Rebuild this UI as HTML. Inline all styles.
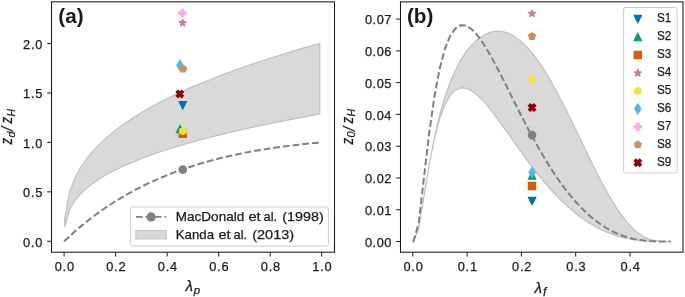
<!DOCTYPE html>
<html><head><meta charset="utf-8"><title>chart</title>
<style>html,body{margin:0;padding:0;background:#fff;}body{width:685px;height:297px;overflow:hidden;position:relative;font-family:"Liberation Sans",sans-serif;}</style>
</head><body>
<svg width="685" height="297" viewBox="0 0 685 297" style="position:absolute;left:0;top:0;will-change:transform">
<clipPath id="c1"><rect x="51.50" y="1.85" width="283.00" height="250.35"/></clipPath>
<g clip-path="url(#c1)">
<path d="M64.72 218.68 L69.92 190.60 L75.13 177.49 L80.33 167.96 L85.54 160.24 L90.74 153.64 L95.95 147.82 L101.15 142.59 L106.36 137.81 L111.56 133.39 L116.77 129.27 L121.97 125.40 L127.18 121.75 L132.38 118.29 L137.59 114.99 L142.79 111.84 L148.00 108.82 L153.20 105.92 L158.41 103.13 L163.62 100.43 L168.82 97.82 L174.03 95.29 L179.23 92.84 L184.44 90.46 L189.64 88.14 L194.85 85.88 L200.05 83.68 L205.26 81.54 L210.46 79.44 L215.67 77.39 L220.87 75.39 L226.08 73.42 L231.28 71.50 L236.49 69.62 L241.69 67.77 L246.90 65.95 L252.10 64.17 L257.31 62.42 L262.51 60.70 L267.72 59.01 L272.92 57.35 L278.13 55.71 L283.33 54.10 L288.54 52.51 L293.74 50.94 L298.95 49.40 L304.15 47.88 L309.36 46.38 L314.56 44.90 L319.77 43.44 L319.77 114.06 L314.56 115.00 L309.36 115.95 L304.15 116.92 L298.95 117.90 L293.74 118.89 L288.54 119.89 L283.33 120.92 L278.13 121.95 L272.92 123.01 L267.72 124.08 L262.51 125.16 L257.31 126.27 L252.10 127.39 L246.90 128.54 L241.69 129.71 L236.49 130.90 L231.28 132.11 L226.08 133.34 L220.87 134.61 L215.67 135.89 L210.46 137.21 L205.26 138.56 L200.05 139.94 L194.85 141.36 L189.64 142.81 L184.44 144.30 L179.23 145.83 L174.03 147.41 L168.82 149.03 L163.62 150.71 L158.41 152.44 L153.20 154.24 L148.00 156.11 L142.79 158.05 L137.59 160.08 L132.38 162.20 L127.18 164.42 L121.97 166.77 L116.77 169.25 L111.56 171.90 L106.36 174.75 L101.15 177.82 L95.95 181.19 L90.74 184.93 L85.54 189.17 L80.33 194.14 L75.13 200.27 L69.92 208.69 L64.72 226.76 Z" fill="#d9d9d9" stroke="#c0c0c0" stroke-width="1.2" stroke-linejoin="miter"/>
<path d="M64.10 241.30 L64.72 240.71 L69.92 235.87 L75.13 231.22 L80.33 226.77 L85.54 222.51 L90.74 218.42 L95.95 214.50 L101.15 210.75 L106.36 207.16 L111.56 203.73 L116.77 200.44 L121.97 197.29 L127.18 194.27 L132.38 191.39 L137.59 188.63 L142.79 185.99 L148.00 183.47 L153.20 181.06 L158.41 178.75 L163.62 176.55 L168.82 174.45 L174.03 172.44 L179.23 170.52 L184.44 168.69 L189.64 166.95 L194.85 165.28 L200.05 163.69 L205.26 162.18 L210.46 160.73 L215.67 159.36 L220.87 158.05 L226.08 156.80 L231.28 155.61 L236.49 154.48 L241.69 153.41 L246.90 152.39 L252.10 151.42 L257.31 150.50 L262.51 149.62 L267.72 148.79 L272.92 148.00 L278.13 147.26 L283.33 146.55 L288.54 145.88 L293.74 145.25 L298.95 144.65 L304.15 144.08 L309.36 143.55 L314.56 143.04 L319.77 142.57" fill="none" stroke="#808080" stroke-width="2" stroke-dasharray="6.781 2.932"/>
<circle cx="182.80" cy="169.63" r="4.3" fill="#808080"/>
<polygon points="179.15,101.55 186.45,101.55 182.80,108.85" fill="#0072b2" stroke="#0072b2" stroke-width="1.20" stroke-linejoin="miter"/>
<polygon points="176.35,132.65 183.65,132.65 180.00,125.35" fill="#009e73" stroke="#009e73" stroke-width="1.20" stroke-linejoin="miter"/>
<polygon points="179.15,130.15 186.45,130.15 186.45,137.45 179.15,137.45" fill="#d55e00" stroke="#d55e00" stroke-width="1.20" stroke-linejoin="miter"/>
<polygon points="182.60,18.96 183.49,21.68 186.35,21.68 184.03,23.37 184.92,26.09 182.60,24.41 180.28,26.09 181.17,23.37 178.85,21.68 181.71,21.68" fill="#cc79a7" stroke="#cc79a7" stroke-width="1.20" stroke-linejoin="bevel"/>
<polygon points="183.00,134.65 179.84,132.82 179.84,129.18 183.00,127.35 186.16,129.18 186.16,132.82" fill="#f0e442" stroke="#f0e442" stroke-width="1.20" stroke-linejoin="miter"/>
<polygon points="180.00,60.24 183.10,65.40 180.00,70.56 176.90,65.40" fill="#56b4e9" stroke="#56b4e9" stroke-width="1.20" stroke-linejoin="miter"/>
<polygon points="181.18,9.45 183.62,9.45 183.62,11.88 186.05,11.88 186.05,14.32 183.62,14.32 183.62,16.75 181.18,16.75 181.18,14.32 178.75,14.32 178.75,11.88 181.18,11.88" fill="#fbafe4" stroke="#fbafe4" stroke-width="1.20" stroke-linejoin="miter"/>
<polygon points="183.20,65.25 186.67,67.77 185.35,71.85 181.05,71.85 179.73,67.77" fill="#ca9161" stroke="#ca9161" stroke-width="1.20" stroke-linejoin="miter"/>
<polygon points="177.98,90.25 179.80,92.08 181.62,90.25 183.45,92.08 181.62,93.90 183.45,95.73 181.62,97.55 179.80,95.73 177.98,97.55 176.15,95.73 177.98,93.90 176.15,92.08" fill="#8b0000" stroke="#8b0000" stroke-width="1.20" stroke-linejoin="miter"/>
</g>
<line x1="64.10" y1="252.20" x2="64.10" y2="256.50" stroke="#1a1a1a" stroke-width="1"/>
<line x1="115.62" y1="252.20" x2="115.62" y2="256.50" stroke="#1a1a1a" stroke-width="1"/>
<line x1="167.14" y1="252.20" x2="167.14" y2="256.50" stroke="#1a1a1a" stroke-width="1"/>
<line x1="218.66" y1="252.20" x2="218.66" y2="256.50" stroke="#1a1a1a" stroke-width="1"/>
<line x1="270.18" y1="252.20" x2="270.18" y2="256.50" stroke="#1a1a1a" stroke-width="1"/>
<line x1="321.70" y1="252.20" x2="321.70" y2="256.50" stroke="#1a1a1a" stroke-width="1"/>
<line x1="47.20" y1="241.30" x2="51.50" y2="241.30" stroke="#1a1a1a" stroke-width="1"/>
<line x1="47.20" y1="191.85" x2="51.50" y2="191.85" stroke="#1a1a1a" stroke-width="1"/>
<line x1="47.20" y1="142.40" x2="51.50" y2="142.40" stroke="#1a1a1a" stroke-width="1"/>
<line x1="47.20" y1="92.95" x2="51.50" y2="92.95" stroke="#1a1a1a" stroke-width="1"/>
<line x1="47.20" y1="43.50" x2="51.50" y2="43.50" stroke="#1a1a1a" stroke-width="1"/>
<rect x="51.50" y="1.85" width="283.00" height="250.35" fill="none" stroke="#1a1a1a" stroke-width="1.05"/>
<clipPath id="c2"><rect x="400.50" y="1.85" width="282.50" height="250.35"/></clipPath>
<g clip-path="url(#c2)">
<path d="M413.42 241.50 L418.67 228.73 L423.92 196.99 L429.17 164.93 L434.41 137.54 L439.66 115.14 L444.91 96.99 L450.16 82.23 L455.40 70.18 L460.65 60.30 L465.90 52.21 L471.15 45.64 L476.39 40.41 L481.64 36.41 L486.89 33.57 L492.13 31.84 L497.38 31.19 L502.63 31.61 L507.88 33.08 L513.12 35.60 L518.37 39.12 L523.62 43.64 L528.87 49.10 L534.11 55.47 L539.36 62.69 L544.61 70.68 L549.86 79.39 L555.10 88.71 L560.35 98.57 L565.60 108.86 L570.85 119.47 L576.09 130.29 L581.34 141.22 L586.59 152.11 L591.84 162.86 L597.08 173.35 L602.33 183.44 L607.58 193.01 L612.83 201.96 L618.07 210.16 L623.32 217.52 L628.57 223.95 L633.82 229.37 L639.06 233.74 L644.31 237.05 L649.56 239.34 L654.81 240.70 L660.05 241.32 L665.30 241.49 L670.55 241.50 L670.55 241.50 L665.30 241.50 L660.05 241.48 L654.81 241.40 L649.56 241.21 L644.31 240.89 L639.06 240.38 L633.82 239.68 L628.57 238.75 L623.32 237.58 L618.07 236.15 L612.83 234.43 L607.58 232.43 L602.33 230.12 L597.08 227.50 L591.84 224.55 L586.59 221.26 L581.34 217.64 L576.09 213.66 L570.85 209.33 L565.60 204.65 L560.35 199.61 L555.10 194.23 L549.86 188.51 L544.61 182.45 L539.36 176.09 L534.11 169.44 L528.87 162.52 L523.62 155.39 L518.37 148.08 L513.12 140.66 L507.88 133.20 L502.63 125.78 L497.38 118.53 L492.13 111.57 L486.89 105.06 L481.64 99.20 L476.39 94.23 L471.15 90.45 L465.90 88.20 L460.65 87.92 L455.40 90.15 L450.16 95.50 L444.91 104.76 L439.66 118.79 L434.41 138.53 L429.17 164.65 L423.92 196.55 L418.67 228.62 L413.42 241.50 Z" fill="#d9d9d9" stroke="#c0c0c0" stroke-width="1.2" stroke-linejoin="miter"/>
<path d="M412.80 241.50 L413.42 241.50 L418.67 223.35 L423.92 178.18 L429.17 133.26 L434.41 96.48 L439.66 68.67 L444.91 48.91 L450.16 35.87 L455.40 28.32 L460.65 25.20 L465.90 25.58 L471.15 28.75 L476.39 34.08 L481.64 41.07 L486.89 49.33 L492.13 58.49 L497.38 68.30 L502.63 78.52 L507.88 88.96 L513.12 99.47 L518.37 109.93 L523.62 120.22 L528.87 130.27 L534.11 140.00 L539.36 149.37 L544.61 158.34 L549.86 166.86 L555.10 174.92 L560.35 182.51 L565.60 189.60 L570.85 196.19 L576.09 202.29 L581.34 207.89 L586.59 213.00 L591.84 217.63 L597.08 221.78 L602.33 225.48 L607.58 228.73 L612.83 231.55 L618.07 233.96 L623.32 235.98 L628.57 237.63 L633.82 238.94 L639.06 239.93 L644.31 240.63 L649.56 241.10 L654.81 241.36 L660.05 241.47 L665.30 241.50 L670.55 241.50" fill="none" stroke="#808080" stroke-width="2" stroke-dasharray="6.793 2.938"/>
<circle cx="532.10" cy="135.10" r="4.3" fill="#808080"/>
<polygon points="528.45,197.45 535.75,197.45 532.10,204.75" fill="#0072b2" stroke="#0072b2" stroke-width="1.20" stroke-linejoin="miter"/>
<polygon points="528.45,179.15 535.75,179.15 532.10,171.85" fill="#009e73" stroke="#009e73" stroke-width="1.20" stroke-linejoin="miter"/>
<polygon points="528.35,182.35 535.65,182.35 535.65,189.65 528.35,189.65" fill="#d55e00" stroke="#d55e00" stroke-width="1.20" stroke-linejoin="miter"/>
<polygon points="532.00,9.66 532.89,12.38 535.75,12.38 533.43,14.07 534.32,16.79 532.00,15.11 529.68,16.79 530.57,14.07 528.25,12.38 531.11,12.38" fill="#cc79a7" stroke="#cc79a7" stroke-width="1.20" stroke-linejoin="bevel"/>
<polygon points="532.00,82.85 528.84,81.03 528.84,77.38 532.00,75.55 535.16,77.38 535.16,81.03" fill="#f0e442" stroke="#f0e442" stroke-width="1.20" stroke-linejoin="miter"/>
<polygon points="532.10,167.34 535.20,172.50 532.10,177.66 529.00,172.50" fill="#56b4e9" stroke="#56b4e9" stroke-width="1.20" stroke-linejoin="miter"/>
<polygon points="530.88,104.65 533.32,104.65 533.32,107.08 535.75,107.08 535.75,109.52 533.32,109.52 533.32,111.95 530.88,111.95 530.88,109.52 528.45,109.52 528.45,107.08 530.88,107.08" fill="#fbafe4" stroke="#fbafe4" stroke-width="1.20" stroke-linejoin="miter"/>
<polygon points="532.00,32.75 535.47,35.27 534.15,39.35 529.85,39.35 528.53,35.27" fill="#ca9161" stroke="#ca9161" stroke-width="1.20" stroke-linejoin="miter"/>
<polygon points="530.27,103.95 532.10,105.77 533.93,103.95 535.75,105.77 533.93,107.60 535.75,109.42 533.93,111.25 532.10,109.42 530.27,111.25 528.45,109.42 530.27,107.60 528.45,105.77" fill="#8b0000" stroke="#8b0000" stroke-width="1.20" stroke-linejoin="miter"/>
</g>
<line x1="412.80" y1="252.20" x2="412.80" y2="256.50" stroke="#1a1a1a" stroke-width="1"/>
<line x1="467.10" y1="252.20" x2="467.10" y2="256.50" stroke="#1a1a1a" stroke-width="1"/>
<line x1="521.40" y1="252.20" x2="521.40" y2="256.50" stroke="#1a1a1a" stroke-width="1"/>
<line x1="575.70" y1="252.20" x2="575.70" y2="256.50" stroke="#1a1a1a" stroke-width="1"/>
<line x1="630.00" y1="252.20" x2="630.00" y2="256.50" stroke="#1a1a1a" stroke-width="1"/>
<line x1="396.20" y1="241.50" x2="400.50" y2="241.50" stroke="#1a1a1a" stroke-width="1"/>
<line x1="396.20" y1="209.73" x2="400.50" y2="209.73" stroke="#1a1a1a" stroke-width="1"/>
<line x1="396.20" y1="177.96" x2="400.50" y2="177.96" stroke="#1a1a1a" stroke-width="1"/>
<line x1="396.20" y1="146.19" x2="400.50" y2="146.19" stroke="#1a1a1a" stroke-width="1"/>
<line x1="396.20" y1="114.42" x2="400.50" y2="114.42" stroke="#1a1a1a" stroke-width="1"/>
<line x1="396.20" y1="82.65" x2="400.50" y2="82.65" stroke="#1a1a1a" stroke-width="1"/>
<line x1="396.20" y1="50.88" x2="400.50" y2="50.88" stroke="#1a1a1a" stroke-width="1"/>
<line x1="396.20" y1="19.11" x2="400.50" y2="19.11" stroke="#1a1a1a" stroke-width="1"/>
<rect x="400.50" y="1.85" width="282.50" height="250.35" fill="none" stroke="#1a1a1a" stroke-width="1.05"/>
<rect x="130.60" y="206.90" width="197.80" height="39.20" rx="2.4" ry="2.4" fill="#fff" fill-opacity="0.8" stroke="#cccccc" stroke-width="1"/>
<path d="M135.9 216.9 H166.3" fill="none" stroke="#808080" stroke-width="1.9" stroke-dasharray="6.66 2.88"/>
<circle cx="151.1" cy="216.9" r="4.6" fill="#808080"/>
<rect x="135.9" y="230.6" width="30.4" height="8.3" fill="#d9d9d9" stroke="#c0c0c0" stroke-width="1"/>
<rect x="623.60" y="7.40" width="53.60" height="165.60" rx="2.4" ry="2.4" fill="#fff" fill-opacity="0.8" stroke="#cccccc" stroke-width="1"/>
<polygon points="634.20,15.45 641.50,15.45 637.85,22.75" fill="#0072b2" stroke="#0072b2" stroke-width="1.20" stroke-linejoin="miter"/>
<polygon points="634.20,40.70 641.50,40.70 637.85,33.40" fill="#009e73" stroke="#009e73" stroke-width="1.20" stroke-linejoin="miter"/>
<polygon points="634.20,51.35 641.50,51.35 641.50,58.65 634.20,58.65" fill="#d55e00" stroke="#d55e00" stroke-width="1.20" stroke-linejoin="miter"/>
<polygon points="637.85,69.01 638.74,71.73 641.60,71.73 639.28,73.42 640.17,76.14 637.85,74.46 635.53,76.14 636.42,73.42 634.10,71.73 636.96,71.73" fill="#cc79a7" stroke="#cc79a7" stroke-width="1.20" stroke-linejoin="bevel"/>
<polygon points="637.85,94.55 634.69,92.73 634.69,89.08 637.85,87.25 641.01,89.08 641.01,92.73" fill="#f0e442" stroke="#f0e442" stroke-width="1.20" stroke-linejoin="miter"/>
<polygon points="637.85,103.69 640.95,108.85 637.85,114.01 634.75,108.85" fill="#56b4e9" stroke="#56b4e9" stroke-width="1.20" stroke-linejoin="miter"/>
<polygon points="636.63,123.15 639.07,123.15 639.07,125.58 641.50,125.58 641.50,128.02 639.07,128.02 639.07,130.45 636.63,130.45 636.63,128.02 634.20,128.02 634.20,125.58 636.63,125.58" fill="#fbafe4" stroke="#fbafe4" stroke-width="1.20" stroke-linejoin="miter"/>
<polygon points="637.85,141.10 641.32,143.62 640.00,147.70 635.70,147.70 634.38,143.62" fill="#ca9161" stroke="#ca9161" stroke-width="1.20" stroke-linejoin="miter"/>
<polygon points="636.02,159.05 637.85,160.88 639.68,159.05 641.50,160.88 639.68,162.70 641.50,164.52 639.68,166.35 637.85,164.52 636.02,166.35 634.20,164.52 636.02,162.70 634.20,160.88" fill="#8b0000" stroke="#8b0000" stroke-width="1.20" stroke-linejoin="miter"/>
<text x="64.80" y="270.50" font-family="'Liberation Sans', sans-serif" font-size="12.80" text-anchor="middle" font-weight="normal" font-style="normal" fill="#1a1a1a" stroke="#1a1a1a" stroke-width="0.25" letter-spacing="0.8">0.0</text>
<text x="116.32" y="270.50" font-family="'Liberation Sans', sans-serif" font-size="12.80" text-anchor="middle" font-weight="normal" font-style="normal" fill="#1a1a1a" stroke="#1a1a1a" stroke-width="0.25" letter-spacing="0.8">0.2</text>
<text x="167.84" y="270.50" font-family="'Liberation Sans', sans-serif" font-size="12.80" text-anchor="middle" font-weight="normal" font-style="normal" fill="#1a1a1a" stroke="#1a1a1a" stroke-width="0.25" letter-spacing="0.8">0.4</text>
<text x="219.36" y="270.50" font-family="'Liberation Sans', sans-serif" font-size="12.80" text-anchor="middle" font-weight="normal" font-style="normal" fill="#1a1a1a" stroke="#1a1a1a" stroke-width="0.25" letter-spacing="0.8">0.6</text>
<text x="270.88" y="270.50" font-family="'Liberation Sans', sans-serif" font-size="12.80" text-anchor="middle" font-weight="normal" font-style="normal" fill="#1a1a1a" stroke="#1a1a1a" stroke-width="0.25" letter-spacing="0.8">0.8</text>
<text x="322.40" y="270.50" font-family="'Liberation Sans', sans-serif" font-size="12.80" text-anchor="middle" font-weight="normal" font-style="normal" fill="#1a1a1a" stroke="#1a1a1a" stroke-width="0.25" letter-spacing="0.8">1.0</text>
<text x="43.20" y="246.50" font-family="'Liberation Sans', sans-serif" font-size="12.80" text-anchor="end" font-weight="normal" font-style="normal" fill="#1a1a1a" stroke="#1a1a1a" stroke-width="0.25" letter-spacing="0.8">0.0</text>
<text x="43.20" y="197.05" font-family="'Liberation Sans', sans-serif" font-size="12.80" text-anchor="end" font-weight="normal" font-style="normal" fill="#1a1a1a" stroke="#1a1a1a" stroke-width="0.25" letter-spacing="0.8">0.5</text>
<text x="43.20" y="147.60" font-family="'Liberation Sans', sans-serif" font-size="12.80" text-anchor="end" font-weight="normal" font-style="normal" fill="#1a1a1a" stroke="#1a1a1a" stroke-width="0.25" letter-spacing="0.8">1.0</text>
<text x="43.20" y="98.15" font-family="'Liberation Sans', sans-serif" font-size="12.80" text-anchor="end" font-weight="normal" font-style="normal" fill="#1a1a1a" stroke="#1a1a1a" stroke-width="0.25" letter-spacing="0.8">1.5</text>
<text x="43.20" y="48.70" font-family="'Liberation Sans', sans-serif" font-size="12.80" text-anchor="end" font-weight="normal" font-style="normal" fill="#1a1a1a" stroke="#1a1a1a" stroke-width="0.25" letter-spacing="0.8">2.0</text>
<text x="413.50" y="270.50" font-family="'Liberation Sans', sans-serif" font-size="12.80" text-anchor="middle" font-weight="normal" font-style="normal" fill="#1a1a1a" stroke="#1a1a1a" stroke-width="0.25" letter-spacing="0.8">0.0</text>
<text x="467.80" y="270.50" font-family="'Liberation Sans', sans-serif" font-size="12.80" text-anchor="middle" font-weight="normal" font-style="normal" fill="#1a1a1a" stroke="#1a1a1a" stroke-width="0.25" letter-spacing="0.8">0.1</text>
<text x="522.10" y="270.50" font-family="'Liberation Sans', sans-serif" font-size="12.80" text-anchor="middle" font-weight="normal" font-style="normal" fill="#1a1a1a" stroke="#1a1a1a" stroke-width="0.25" letter-spacing="0.8">0.2</text>
<text x="576.40" y="270.50" font-family="'Liberation Sans', sans-serif" font-size="12.80" text-anchor="middle" font-weight="normal" font-style="normal" fill="#1a1a1a" stroke="#1a1a1a" stroke-width="0.25" letter-spacing="0.8">0.3</text>
<text x="630.70" y="270.50" font-family="'Liberation Sans', sans-serif" font-size="12.80" text-anchor="middle" font-weight="normal" font-style="normal" fill="#1a1a1a" stroke="#1a1a1a" stroke-width="0.25" letter-spacing="0.8">0.4</text>
<text x="391.90" y="246.70" font-family="'Liberation Sans', sans-serif" font-size="12.80" text-anchor="end" font-weight="normal" font-style="normal" fill="#1a1a1a" stroke="#1a1a1a" stroke-width="0.25" letter-spacing="0.5">0.00</text>
<text x="391.90" y="214.93" font-family="'Liberation Sans', sans-serif" font-size="12.80" text-anchor="end" font-weight="normal" font-style="normal" fill="#1a1a1a" stroke="#1a1a1a" stroke-width="0.25" letter-spacing="0.5">0.01</text>
<text x="391.90" y="183.16" font-family="'Liberation Sans', sans-serif" font-size="12.80" text-anchor="end" font-weight="normal" font-style="normal" fill="#1a1a1a" stroke="#1a1a1a" stroke-width="0.25" letter-spacing="0.5">0.02</text>
<text x="391.90" y="151.39" font-family="'Liberation Sans', sans-serif" font-size="12.80" text-anchor="end" font-weight="normal" font-style="normal" fill="#1a1a1a" stroke="#1a1a1a" stroke-width="0.25" letter-spacing="0.5">0.03</text>
<text x="391.90" y="119.62" font-family="'Liberation Sans', sans-serif" font-size="12.80" text-anchor="end" font-weight="normal" font-style="normal" fill="#1a1a1a" stroke="#1a1a1a" stroke-width="0.25" letter-spacing="0.5">0.04</text>
<text x="391.90" y="87.85" font-family="'Liberation Sans', sans-serif" font-size="12.80" text-anchor="end" font-weight="normal" font-style="normal" fill="#1a1a1a" stroke="#1a1a1a" stroke-width="0.25" letter-spacing="0.5">0.05</text>
<text x="391.90" y="56.08" font-family="'Liberation Sans', sans-serif" font-size="12.80" text-anchor="end" font-weight="normal" font-style="normal" fill="#1a1a1a" stroke="#1a1a1a" stroke-width="0.25" letter-spacing="0.5">0.06</text>
<text x="391.90" y="24.31" font-family="'Liberation Sans', sans-serif" font-size="12.80" text-anchor="end" font-weight="normal" font-style="normal" fill="#1a1a1a" stroke="#1a1a1a" stroke-width="0.25" letter-spacing="0.5">0.07</text>
<text x="657.00" y="22.45" font-family="'Liberation Sans', sans-serif" font-size="13.00" text-anchor="start" font-weight="normal" font-style="normal" fill="#1a1a1a" stroke="#1a1a1a" stroke-width="0.25" textLength="14.3" lengthAdjust="spacingAndGlyphs">S1</text>
<text x="657.00" y="40.40" font-family="'Liberation Sans', sans-serif" font-size="13.00" text-anchor="start" font-weight="normal" font-style="normal" fill="#1a1a1a" stroke="#1a1a1a" stroke-width="0.25" textLength="14.3" lengthAdjust="spacingAndGlyphs">S2</text>
<text x="657.00" y="58.35" font-family="'Liberation Sans', sans-serif" font-size="13.00" text-anchor="start" font-weight="normal" font-style="normal" fill="#1a1a1a" stroke="#1a1a1a" stroke-width="0.25" textLength="14.3" lengthAdjust="spacingAndGlyphs">S3</text>
<text x="657.00" y="76.30" font-family="'Liberation Sans', sans-serif" font-size="13.00" text-anchor="start" font-weight="normal" font-style="normal" fill="#1a1a1a" stroke="#1a1a1a" stroke-width="0.25" textLength="14.3" lengthAdjust="spacingAndGlyphs">S4</text>
<text x="657.00" y="94.25" font-family="'Liberation Sans', sans-serif" font-size="13.00" text-anchor="start" font-weight="normal" font-style="normal" fill="#1a1a1a" stroke="#1a1a1a" stroke-width="0.25" textLength="14.3" lengthAdjust="spacingAndGlyphs">S5</text>
<text x="657.00" y="112.20" font-family="'Liberation Sans', sans-serif" font-size="13.00" text-anchor="start" font-weight="normal" font-style="normal" fill="#1a1a1a" stroke="#1a1a1a" stroke-width="0.25" textLength="14.3" lengthAdjust="spacingAndGlyphs">S6</text>
<text x="657.00" y="130.15" font-family="'Liberation Sans', sans-serif" font-size="13.00" text-anchor="start" font-weight="normal" font-style="normal" fill="#1a1a1a" stroke="#1a1a1a" stroke-width="0.25" textLength="14.3" lengthAdjust="spacingAndGlyphs">S7</text>
<text x="657.00" y="148.10" font-family="'Liberation Sans', sans-serif" font-size="13.00" text-anchor="start" font-weight="normal" font-style="normal" fill="#1a1a1a" stroke="#1a1a1a" stroke-width="0.25" textLength="14.3" lengthAdjust="spacingAndGlyphs">S8</text>
<text x="657.00" y="166.05" font-family="'Liberation Sans', sans-serif" font-size="13.00" text-anchor="start" font-weight="normal" font-style="normal" fill="#1a1a1a" stroke="#1a1a1a" stroke-width="0.25" textLength="14.3" lengthAdjust="spacingAndGlyphs">S9</text>
<text x="175.80" y="221.20" font-family="'Liberation Sans', sans-serif" font-size="12.80" text-anchor="start" font-weight="normal" font-style="normal" fill="#1a1a1a" stroke="#1a1a1a" stroke-width="0.25" textLength="68.40" lengthAdjust="spacingAndGlyphs">MacDonald</text>
<text x="248.50" y="221.20" font-family="'Liberation Sans', sans-serif" font-size="12.80" text-anchor="start" font-weight="normal" font-style="normal" fill="#1a1a1a" stroke="#1a1a1a" stroke-width="0.25" textLength="12.20" lengthAdjust="spacingAndGlyphs">et</text>
<text x="263.60" y="221.20" font-family="'Liberation Sans', sans-serif" font-size="12.80" text-anchor="start" font-weight="normal" font-style="normal" fill="#1a1a1a" stroke="#1a1a1a" stroke-width="0.25" textLength="13.60" lengthAdjust="spacingAndGlyphs">al.</text>
<text x="282.30" y="221.20" font-family="'Liberation Sans', sans-serif" font-size="12.80" text-anchor="start" font-weight="normal" font-style="normal" fill="#1a1a1a" stroke="#1a1a1a" stroke-width="0.25" textLength="41.50" lengthAdjust="spacingAndGlyphs">(1998)</text>
<text x="175.80" y="239.10" font-family="'Liberation Sans', sans-serif" font-size="12.80" text-anchor="start" font-weight="normal" font-style="normal" fill="#1a1a1a" stroke="#1a1a1a" stroke-width="0.25" textLength="38.20" lengthAdjust="spacingAndGlyphs">Kanda</text>
<text x="218.40" y="239.10" font-family="'Liberation Sans', sans-serif" font-size="12.80" text-anchor="start" font-weight="normal" font-style="normal" fill="#1a1a1a" stroke="#1a1a1a" stroke-width="0.25" textLength="12.20" lengthAdjust="spacingAndGlyphs">et</text>
<text x="233.50" y="239.10" font-family="'Liberation Sans', sans-serif" font-size="12.80" text-anchor="start" font-weight="normal" font-style="normal" fill="#1a1a1a" stroke="#1a1a1a" stroke-width="0.25" textLength="13.60" lengthAdjust="spacingAndGlyphs">al.</text>
<text x="252.20" y="239.10" font-family="'Liberation Sans', sans-serif" font-size="12.80" text-anchor="start" font-weight="normal" font-style="normal" fill="#1a1a1a" stroke="#1a1a1a" stroke-width="0.25" textLength="41.90" lengthAdjust="spacingAndGlyphs">(2013)</text>
<text x="58.30" y="22.90" font-family="'Liberation Sans', sans-serif" font-size="20.70" text-anchor="start" font-weight="bold" font-style="normal" fill="#1a1a1a" stroke="#1a1a1a" stroke-width="0.00" >(a)</text>
<text x="406.90" y="22.90" font-family="'Liberation Sans', sans-serif" font-size="20.70" text-anchor="start" font-weight="bold" font-style="normal" fill="#1a1a1a" stroke="#1a1a1a" stroke-width="0.00" >(b)</text>
<text font-family="'Liberation Sans', sans-serif" fill="#1a1a1a" stroke="#1a1a1a" stroke-width="0.25"><tspan x="185.40" y="291.30" font-size="15.20" font-style="italic">λ</tspan><tspan x="193.70" y="294.40" font-size="11.50" font-style="italic">p</tspan></text>
<text font-family="'Liberation Sans', sans-serif" fill="#1a1a1a" stroke="#1a1a1a" stroke-width="0.25"><tspan x="534.50" y="293.10" font-size="15.20" font-style="italic">λ</tspan><tspan x="543.00" y="295.80" font-size="12.20" font-style="italic">f</tspan></text>
<text transform="translate(11.50,144.5) rotate(-90) translate(0.00,0.00) scale(0.860,1)" font-family="'Liberation Sans', sans-serif" font-size="15.60" font-style="italic" fill="#1a1a1a" stroke="#1a1a1a" stroke-width="0.25">z</text>
<text transform="translate(11.50,144.5) rotate(-90) translate(7.10,3.00) scale(1.000,1)" font-family="'Liberation Sans', sans-serif" font-size="10.80" font-style="italic" fill="#1a1a1a" stroke="#1a1a1a" stroke-width="0.25">d</text>
<text transform="translate(11.50,144.5) rotate(-90) translate(13.50,1.90) scale(0.920,1)" font-family="'Liberation Sans', sans-serif" font-size="16.20" font-style="italic" fill="#1a1a1a" stroke="#1a1a1a" stroke-width="0.25">/</text>
<text transform="translate(11.50,144.5) rotate(-90) translate(20.90,0.00) scale(0.860,1)" font-family="'Liberation Sans', sans-serif" font-size="15.60" font-style="italic" fill="#1a1a1a" stroke="#1a1a1a" stroke-width="0.25">z</text>
<text transform="translate(11.50,144.5) rotate(-90) translate(27.90,3.00) scale(1.000,1)" font-family="'Liberation Sans', sans-serif" font-size="10.40" font-style="italic" fill="#1a1a1a" stroke="#1a1a1a" stroke-width="0.25">H</text>
<text transform="translate(353.00,144.5) rotate(-90) translate(0.00,0.00) scale(0.860,1)" font-family="'Liberation Sans', sans-serif" font-size="15.60" font-style="italic" fill="#1a1a1a" stroke="#1a1a1a" stroke-width="0.25">z</text>
<text transform="translate(353.00,144.5) rotate(-90) translate(7.10,2.40) scale(1.000,1)" font-family="'Liberation Sans', sans-serif" font-size="10.80" font-style="italic" fill="#1a1a1a" stroke="#1a1a1a" stroke-width="0.25">0</text>
<text transform="translate(353.00,144.5) rotate(-90) translate(13.50,1.90) scale(0.920,1)" font-family="'Liberation Sans', sans-serif" font-size="16.20" font-style="italic" fill="#1a1a1a" stroke="#1a1a1a" stroke-width="0.25">/</text>
<text transform="translate(353.00,144.5) rotate(-90) translate(20.90,0.00) scale(0.860,1)" font-family="'Liberation Sans', sans-serif" font-size="15.60" font-style="italic" fill="#1a1a1a" stroke="#1a1a1a" stroke-width="0.25">z</text>
<text transform="translate(353.00,144.5) rotate(-90) translate(27.90,2.40) scale(1.000,1)" font-family="'Liberation Sans', sans-serif" font-size="10.40" font-style="italic" fill="#1a1a1a" stroke="#1a1a1a" stroke-width="0.25">H</text>
</svg>
</body></html>
